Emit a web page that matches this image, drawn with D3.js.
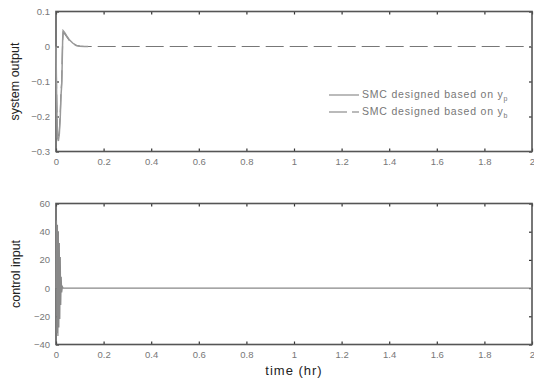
<!DOCTYPE html>
<html>
<head>
<meta charset="utf-8">
<script src="https://cdn.jsdelivr.net/npm/d3@7"></script>
<style>
  body { margin: 0; background: #fff; }
  svg { display: block; }
  text { font-family: "Liberation Sans", Arial, sans-serif; }
</style>
</head>
<body>
<svg id="chart" width="534" height="381"></svg>
<script>
//
// Data
//

// system output, SMC designed based on y_p (solid) - only visible during the transient
const timeP = [0, 0.003, 0.006, 0.01, 0.014, 0.018, 0.021, 0.024, 0.026, 0.028, 0.03, 0.036, 0.045, 0.055, 0.07, 0.085, 0.1, 0.12, 0.135]
const outP  = [0, -0.16, -0.26, -0.27, -0.25, -0.2, -0.14, -0.11, -0.05, 0.02, 0.045, 0.04, 0.03, 0.02, 0.01, 0.003, 0.001, 0, 0]

// system output, SMC designed based on y_b (dashed)
const timeB = [0, 0.003, 0.006, 0.01, 0.014, 0.018, 0.021, 0.024, 0.026, 0.028, 0.03, 0.036, 0.045, 0.055, 0.07, 0.085, 0.1, 0.12, 0.14, 2]
const outB  = [0, -0.15, -0.25, -0.265, -0.24, -0.19, -0.13, -0.1, -0.04, 0.02, 0.04, 0.037, 0.028, 0.018, 0.009, 0.003, 0.001, 0, 0, 0]

// control input
const timeU = [0, 0.002, 0.004, 0.006, 0.008, 0.01, 0.012, 0.014, 0.016, 0.018, 0.02, 0.022, 0.024, 0.027, 0.03, 2]
const ctrlU = [0, 48, -32, 45, -34, 40, -28, 32, -22, 22, -12, 8, -3, 1, 0, 0]

const xTicks = [0, 0.2, 0.4, 0.6, 0.8, 1, 1.2, 1.4, 1.6, 1.8, 2]
const yTicksTop = [-0.3, -0.2, -0.1, 0, 0.1]
const yTicksBot = [-40, -20, 0, 20, 40, 60]
const legendLabels = ['SMC designed based on y', 'SMC designed based on y']
const legendSubs = ['p', 'b']

//
// Layout
//

const svg = d3.select('#chart')
const left = 56, right = 532

function panel(top, bottom, yDomain, yTicks, yLabel, labelX) {
  const x = d3.scaleLinear().domain([0, 2]).range([left, right])
  const y = d3.scaleLinear().domain(yDomain).range([bottom, top])
  const g = svg.append('g')

  // ticks (inside, on all four sides)
  g.append('g').attr('transform', `translate(0,${bottom})`)
    .call(d3.axisBottom(x).tickValues(xTicks).tickSize(-3).tickPadding(7)
      .tickFormat(d3.format('~g')))
  g.append('g').attr('transform', `translate(0,${top})`)
    .call(d3.axisTop(x).tickValues(xTicks).tickSize(-3).tickFormat(''))
  g.append('g').attr('transform', `translate(${left},0)`)
    .call(d3.axisLeft(y).tickValues(yTicks).tickSize(-3).tickPadding(6)
      .tickFormat(d3.format('~g')))
  g.append('g').attr('transform', `translate(${right},0)`)
    .call(d3.axisRight(y).tickValues(yTicks).tickSize(-3).tickFormat(''))

  g.selectAll('.domain').remove()
  g.selectAll('.tick line').attr('stroke', '#333').attr('stroke-width', 1.2)
  g.selectAll('.tick text').attr('fill', '#777').attr('font-size', 9.5)
    .attr('font-family', '"Liberation Sans", Arial, sans-serif')

  g.append('rect')
    .attr('x', left).attr('y', top)
    .attr('width', right - left).attr('height', bottom - top)
    .attr('fill', 'none').attr('stroke', '#555').attr('stroke-width', 1.6)

  g.append('text')
    .attr('transform', `translate(${labelX},${(top + bottom) / 2}) rotate(-90)`)
    .attr('text-anchor', 'middle')
    .attr('font-size', 12.5)
    .attr('fill', '#222')
    .text(yLabel)

  return { x: x, y: y, g: g }
}

//
// Top panel: system output
//

const p1 = panel(11.5, 151.5, [-0.3, 0.1], yTicksTop, 'system output', 19)

const lineP = d3.line().x((d, i) => p1.x(timeP[i])).y(d => p1.y(d))
const lineB = d3.line().x((d, i) => p1.x(timeB[i])).y(d => p1.y(d))

p1.g.append('path').datum(outB)
  .attr('d', lineB).attr('fill', 'none')
  .attr('stroke', '#777').attr('stroke-width', 1.2)
  .attr('stroke-dasharray', '18,6')

p1.g.append('path').datum(outP)
  .attr('d', lineP).attr('fill', 'none')
  .attr('stroke', '#999').attr('stroke-width', 1.5)

// legend
const legend = p1.g.append('g')
const legY = [95, 112]
legendLabels.forEach(function(label, i) {
  if (i === 0) {
    legend.append('line').attr('x1', 329).attr('x2', 359)
      .attr('y1', legY[i]).attr('y2', legY[i])
      .attr('stroke', '#aaa').attr('stroke-width', 1.6)
  } else {
    legend.append('line').attr('x1', 329).attr('x2', 359)
      .attr('y1', legY[i]).attr('y2', legY[i])
      .attr('stroke', '#777').attr('stroke-width', 1.2)
      .attr('stroke-dasharray', '18,5')
  }
  const t = legend.append('text')
    .attr('x', 362).attr('y', legY[i] + 3)
    .attr('font-size', 10.5).attr('fill', '#777')
    .attr('letter-spacing', 0.8)
  t.append('tspan').text(label)
  t.append('tspan').attr('dy', 3).attr('font-size', 7).attr('letter-spacing', 0).text(legendSubs[i])
})

//
// Bottom panel: control input
//

const p2 = panel(203.5, 344.5, [-40, 60], yTicksBot, 'control  input', 20)

const lineU = d3.line().x((d, i) => p2.x(timeU[i])).y(d => p2.y(d))
p2.g.append('path').datum(ctrlU)
  .attr('d', lineU).attr('fill', 'none')
  .attr('stroke', '#888').attr('stroke-width', 1.2)

svg.append('text')
  .attr('x', (left + right) / 2).attr('y', 375)
  .attr('text-anchor', 'middle')
  .attr('font-size', 13).attr('fill', '#222')
  .attr('letter-spacing', 1)
  .text('time (hr)')
</script>
</body>
</html>
